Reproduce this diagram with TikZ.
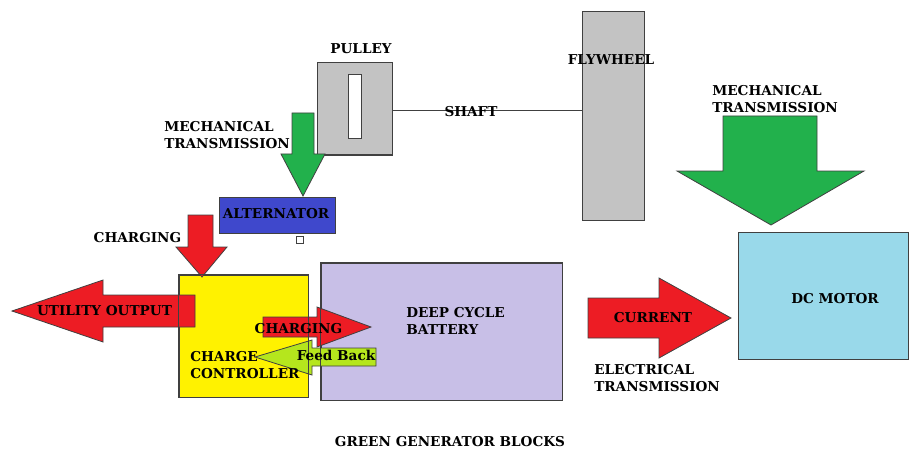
\documentclass[tikz,border=0pt]{standalone}
\usepackage{fontspec}
\setmainfont{DejaVu Serif}
\usetikzlibrary{fit}
\definecolor{pred}{HTML}{ED1C24}
\definecolor{pgreen}{HTML}{22B14C}
\definecolor{pblue}{HTML}{3F48CC}
\definecolor{pyellow}{HTML}{FFF200}
\definecolor{plav}{HTML}{C8BFE7}
\definecolor{plblue}{HTML}{99D9EA}
\definecolor{pgray}{HTML}{C3C3C3}
\definecolor{plime}{HTML}{B5E61D}
\definecolor{edge}{HTML}{404040}
\begin{document}
\begin{tikzpicture}[x=0.75pt,y=-0.75pt,
  box/.style={draw=edge, line width=0.75pt, inner sep=0pt},
  blockarrow/.style={draw=edge, line width=0.6pt},
  lbl/.style={font=\fontsize{10.2}{12.75}\selectfont\bfseries, inner sep=0pt, align=left},
  shaftline/.style={draw=edge, line width=0.75pt}]
\useasboundingbox (0,0) rectangle (909,449);

% boxes
\node[box, fill=pgray, fit={(317,63)(392,155)}] (pulley) {};
\node[box, fill=white, fit={(348,75)(361,139)}] (slot) {};
\node[box, fill=pgray, fit={(582,12)(644,220)}] (flywheel) {};
\node[box, fill=pblue, fit={(219,197)(335,233)}] (alt) {};
\node[box, fill=white, fit={(296,236)(303,243)}] (sq) {};
\node[box, fill=pyellow, fit={(179,275)(308,397)}] (cc) {};
\node[box, fill=plav, fit={(321,263)(562,400)}] (bat) {};
\node[box, fill=plblue, fit={(738,232)(908,359)}] (dc) {};

% shaft
\draw[shaftline] (pulley.east |- 0,111) coordinate (s1) -- (flywheel.west |- s1);

% block arrows
\draw[blockarrow, fill=pgreen] (292,113) -- (314,113) -- (314,154) -- (325,154) -- (303,196) -- (281,154) -- (292,154) -- cycle;
\draw[blockarrow, fill=pgreen] (723,116) -- (817,116) -- (817,171) -- (864,171) -- (771,225) -- (677,171) -- (723,171) -- cycle;
\draw[blockarrow, fill=pred] (188,215) -- (213,215) -- (213,247) -- (227,247) -- (202,277) -- (176,247) -- (188,247) -- cycle;
\draw[blockarrow, fill=pred] (12,311) -- (103,280) -- (103,295) -- (195,295) -- (195,327) -- (103,327) -- (103,342) -- cycle;
\draw[blockarrow, fill=pred] (263,317) -- (317,317) -- (317,307) -- (371,327) -- (317,347) -- (317,337) -- (263,337) -- cycle;
\draw[blockarrow, fill=plime] (255,357) -- (312,340) -- (312,348) -- (376,348) -- (376,366) -- (312,366) -- (312,375) -- cycle;
\draw[blockarrow, fill=pred] (588,298) -- (659,298) -- (659,278) -- (731,318) -- (659,358) -- (659,338) -- (588,338) -- cycle;

% box borders seen through the arrows
\draw[draw=edge, line width=0.6pt] (cc.north west) rectangle (cc.south east);
\draw[draw=edge, line width=0.6pt] (bat.north west) rectangle (bat.south east);

% labels
\node[lbl] (lpulley) at (361,49) {PULLEY};
\node[lbl] (lshaft) at (471,112) {SHAFT};
\node[lbl] (lfly) at (611,60) {FLYWHEEL};
\node[lbl, anchor=west] (lmech1) at (164,135) {MECHANICAL\\TRANSMISSION};
\node[lbl] (lalt) at (276,214) {ALTERNATOR};
\node[lbl] (lchg1) at (137.5,238) {CHARGING};
\node[lbl] (lutil) at (104.5,311) {UTILITY OUTPUT};
\node[lbl] (lchg2) at (298.5,329) {CHARGING};
\node[lbl] (lfeed) at (336,355) {Feed Back};
\node[lbl, anchor=west] (lcc) at (190,365.5) {CHARGE\\CONTROLLER};
\node[lbl, anchor=west] (lbat) at (406,320.5) {DEEP CYCLE\\BATTERY};
\node[lbl] (lcur) at (653,318) {CURRENT};
\node[lbl, anchor=west] (lelec) at (594,378) {ELECTRICAL\\TRANSMISSION};
\node[lbl, anchor=west] (lmech2) at (712,99.5) {MECHANICAL\\TRANSMISSION};
\node[lbl] (ldc) at (835,299) {DC MOTOR};
\node[lbl] (ltitle) at (450,441.5) {GREEN GENERATOR BLOCKS};
\end{tikzpicture}
\end{document}
